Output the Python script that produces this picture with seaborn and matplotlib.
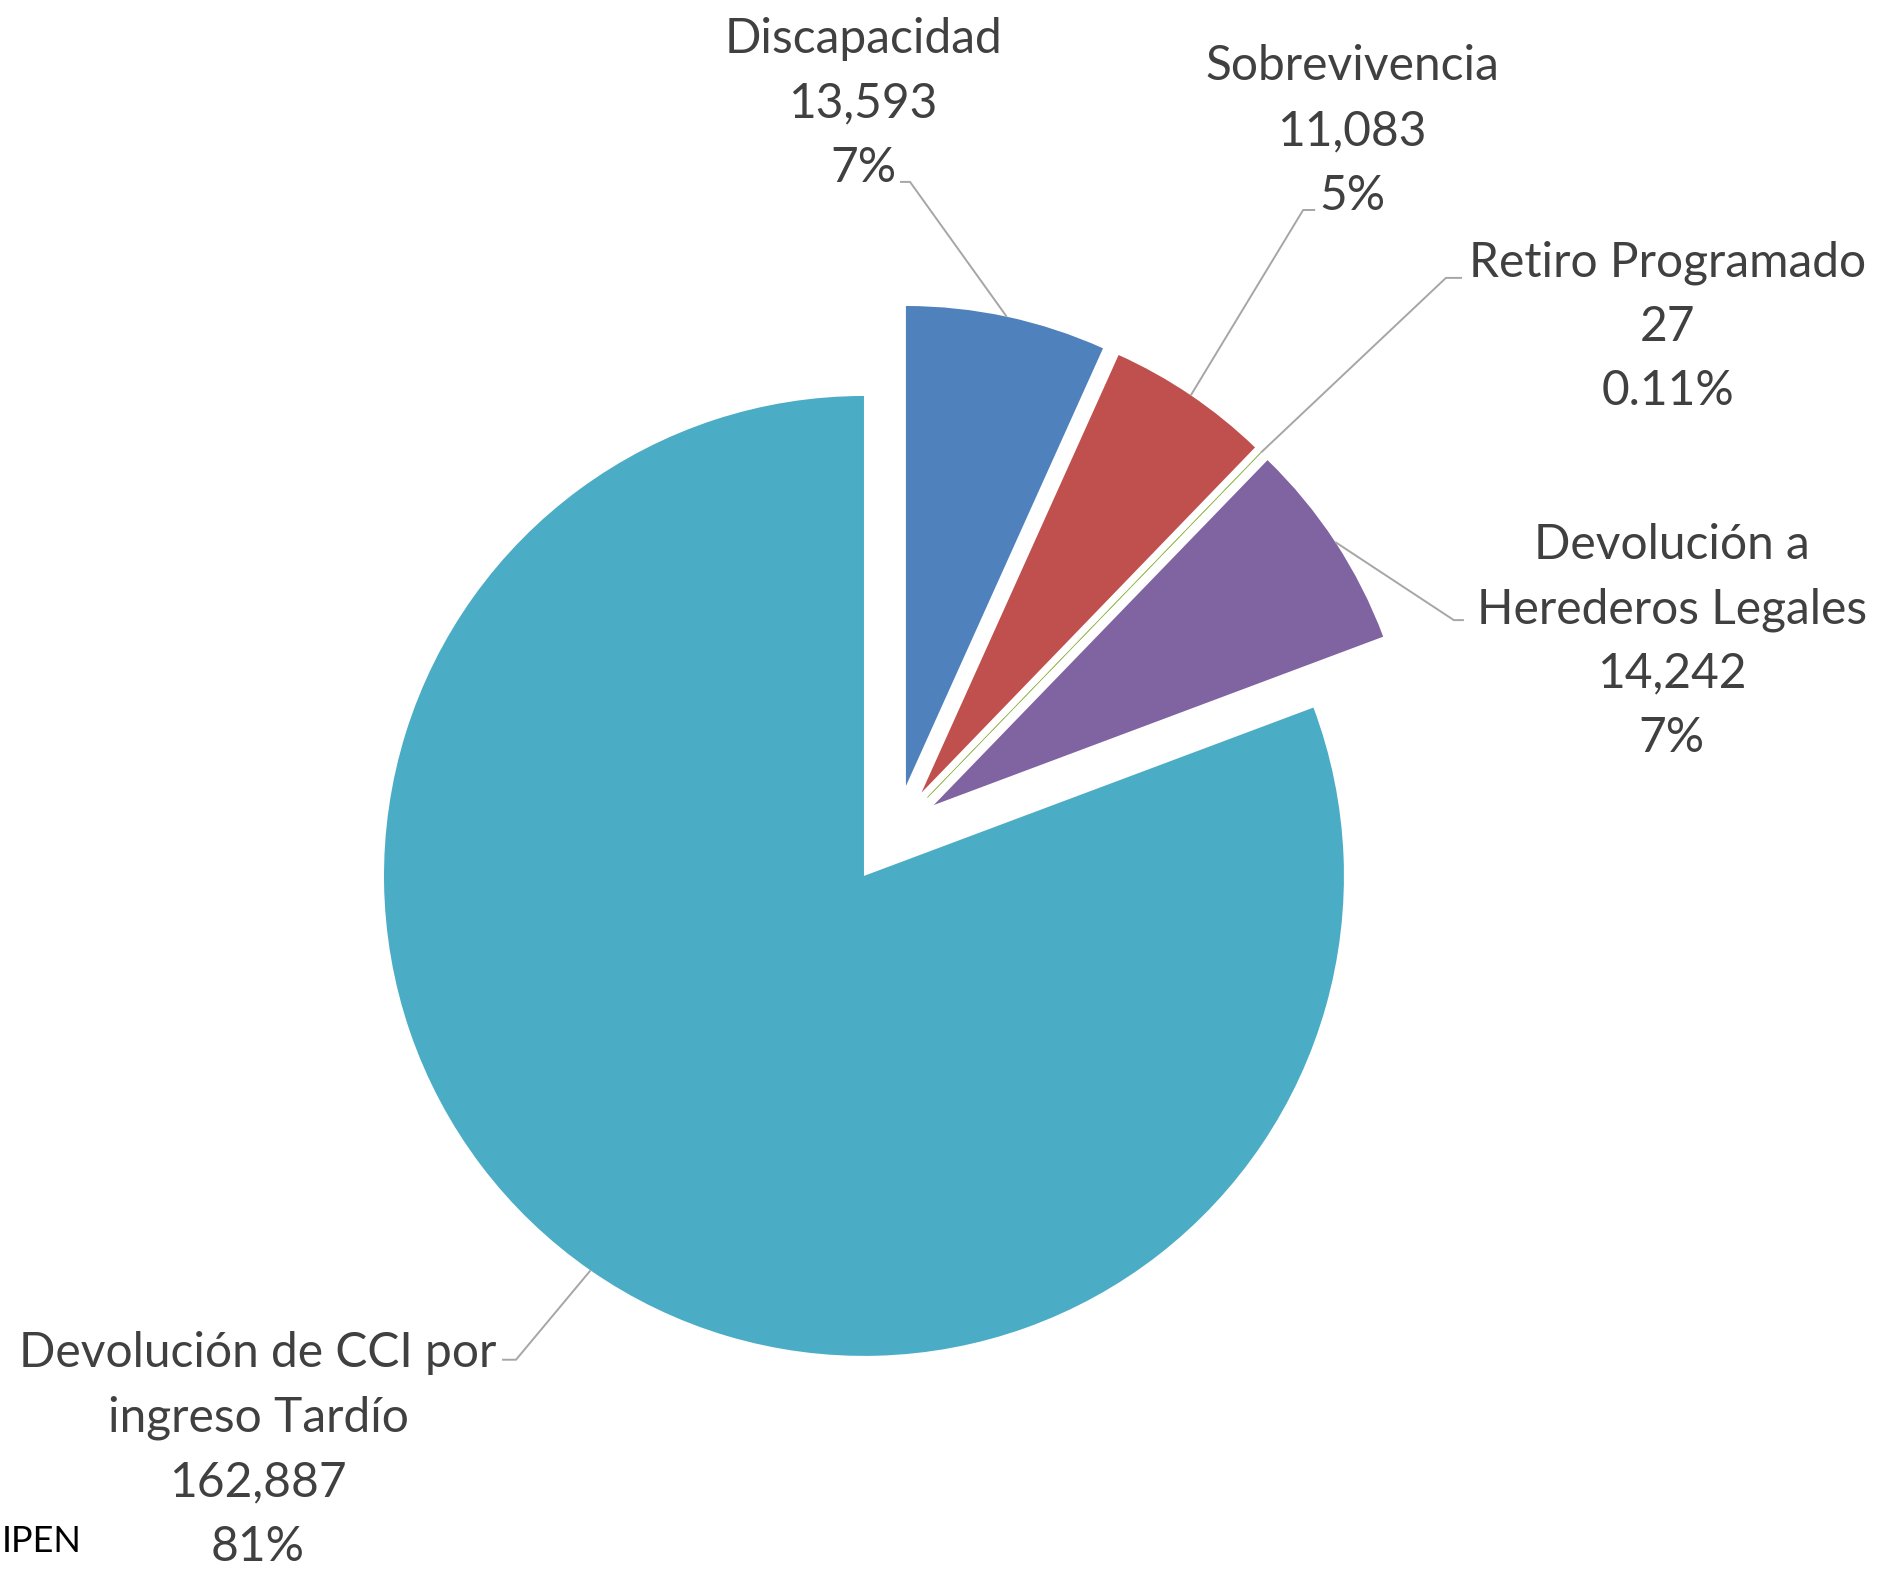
import numpy as np
import matplotlib.pyplot as plt
import seaborn as sns

# ---------------------------------------------
# Data
# ---------------------------------------------
categories = ["Discapacidad", "Sobrevivencia", "Retiro Programado",
              "Devolución a\nHerederos Legales",
              "Devolución de CCI por\ningreso Tardío"]
values = [13593, 11083, 27, 14242, 162887]
pct_labels = ["7%", "5%", "0.11%", "7%", "81%"]
colors = ["#4F81BD", "#C0504D", "#9BBB59", "#8064A2", "#4BACC6"]

# ---------------------------------------------
# Layout (data units, pie radius = 1)
# ---------------------------------------------
label_pos = [(-0.002, 1.608), (1.017, 1.551), (1.675, 1.143),
             (1.683, 0.487), (-1.2625, -1.1975)]
# where the leader line meets the label, and the elbow point
stub_text = [(0.075, 1.446), (0.94, 1.3875), (1.246, 1.246),
             (1.25, 0.533), (-0.754, -1.008)]
stub_elbow = [(0.096, 1.446), (0.915, 1.3875), (1.2125, 1.246),
              (1.229, 0.533), (-0.725, -1.008)]
explode = [0.0925, 0.0925, 0.0925, 0.0925, 0]
group_shift = (0.068, 0.097)
line_step = 0.1345
cap_half = 0.028

sns.set_theme(style="white")
plt.rcParams['font.family'] = ['Lato', 'DejaVu Sans']

fig = plt.figure(figsize=(18.82, 15.69), dpi=100)
ax = fig.add_axes([0, 0, 1, 1])

# exploded small slices
small_colors = [c if i < 4 else "none" for i, c in enumerate(colors)]
w_small, _ = ax.pie(values, colors=small_colors, startangle=90, counterclock=False,
                    radius=1, center=group_shift, explode=explode,
                    wedgeprops=dict(linewidth=0))
w_small[2].set_edgecolor(colors[2])
w_small[2].set_linewidth(0.4)

# main slice
big_colors = ["none"] * 4 + [colors[4]]
w_big, _ = ax.pie(values, colors=big_colors, startangle=90, counterclock=False,
                  radius=1, center=(0, 0), wedgeprops=dict(linewidth=0))

wedges = list(w_small[:4]) + [w_big[4]]

# labels + leader lines
for i, w in enumerate(wedges):
    mid = np.deg2rad((w.theta1 + w.theta2) / 2)
    ax_pt = (w.center[0] + w.r * np.cos(mid), w.center[1] + w.r * np.sin(mid))
    xs = [ax_pt[0], stub_elbow[i][0], stub_text[i][0]]
    ys = [ax_pt[1], stub_elbow[i][1], stub_text[i][1]]
    ax.plot(xs, ys, color="#A6A6A6", lw=1.4, solid_capstyle="butt")

    lines = categories[i].split("\n") + [f"{values[i]:,}", pct_labels[i]]
    n = len(lines)
    for k, line in enumerate(lines):
        y = label_pos[i][1] - (k - (n - 1) / 2) * line_step - cap_half
        ax.text(label_pos[i][0], y, line, ha="center", va="baseline",
                fontsize=34.5, color="#404040")

fig.text(0.001, 0.0175, "IPEN", ha="left", va="center", fontsize=26, color="black")

ax.set_xlim(-1.8, 2.121)
ax.set_ylim(-1.444, 1.825)
ax.set_aspect('equal')
ax.axis('off')

fig.savefig("out.png", dpi=100)
